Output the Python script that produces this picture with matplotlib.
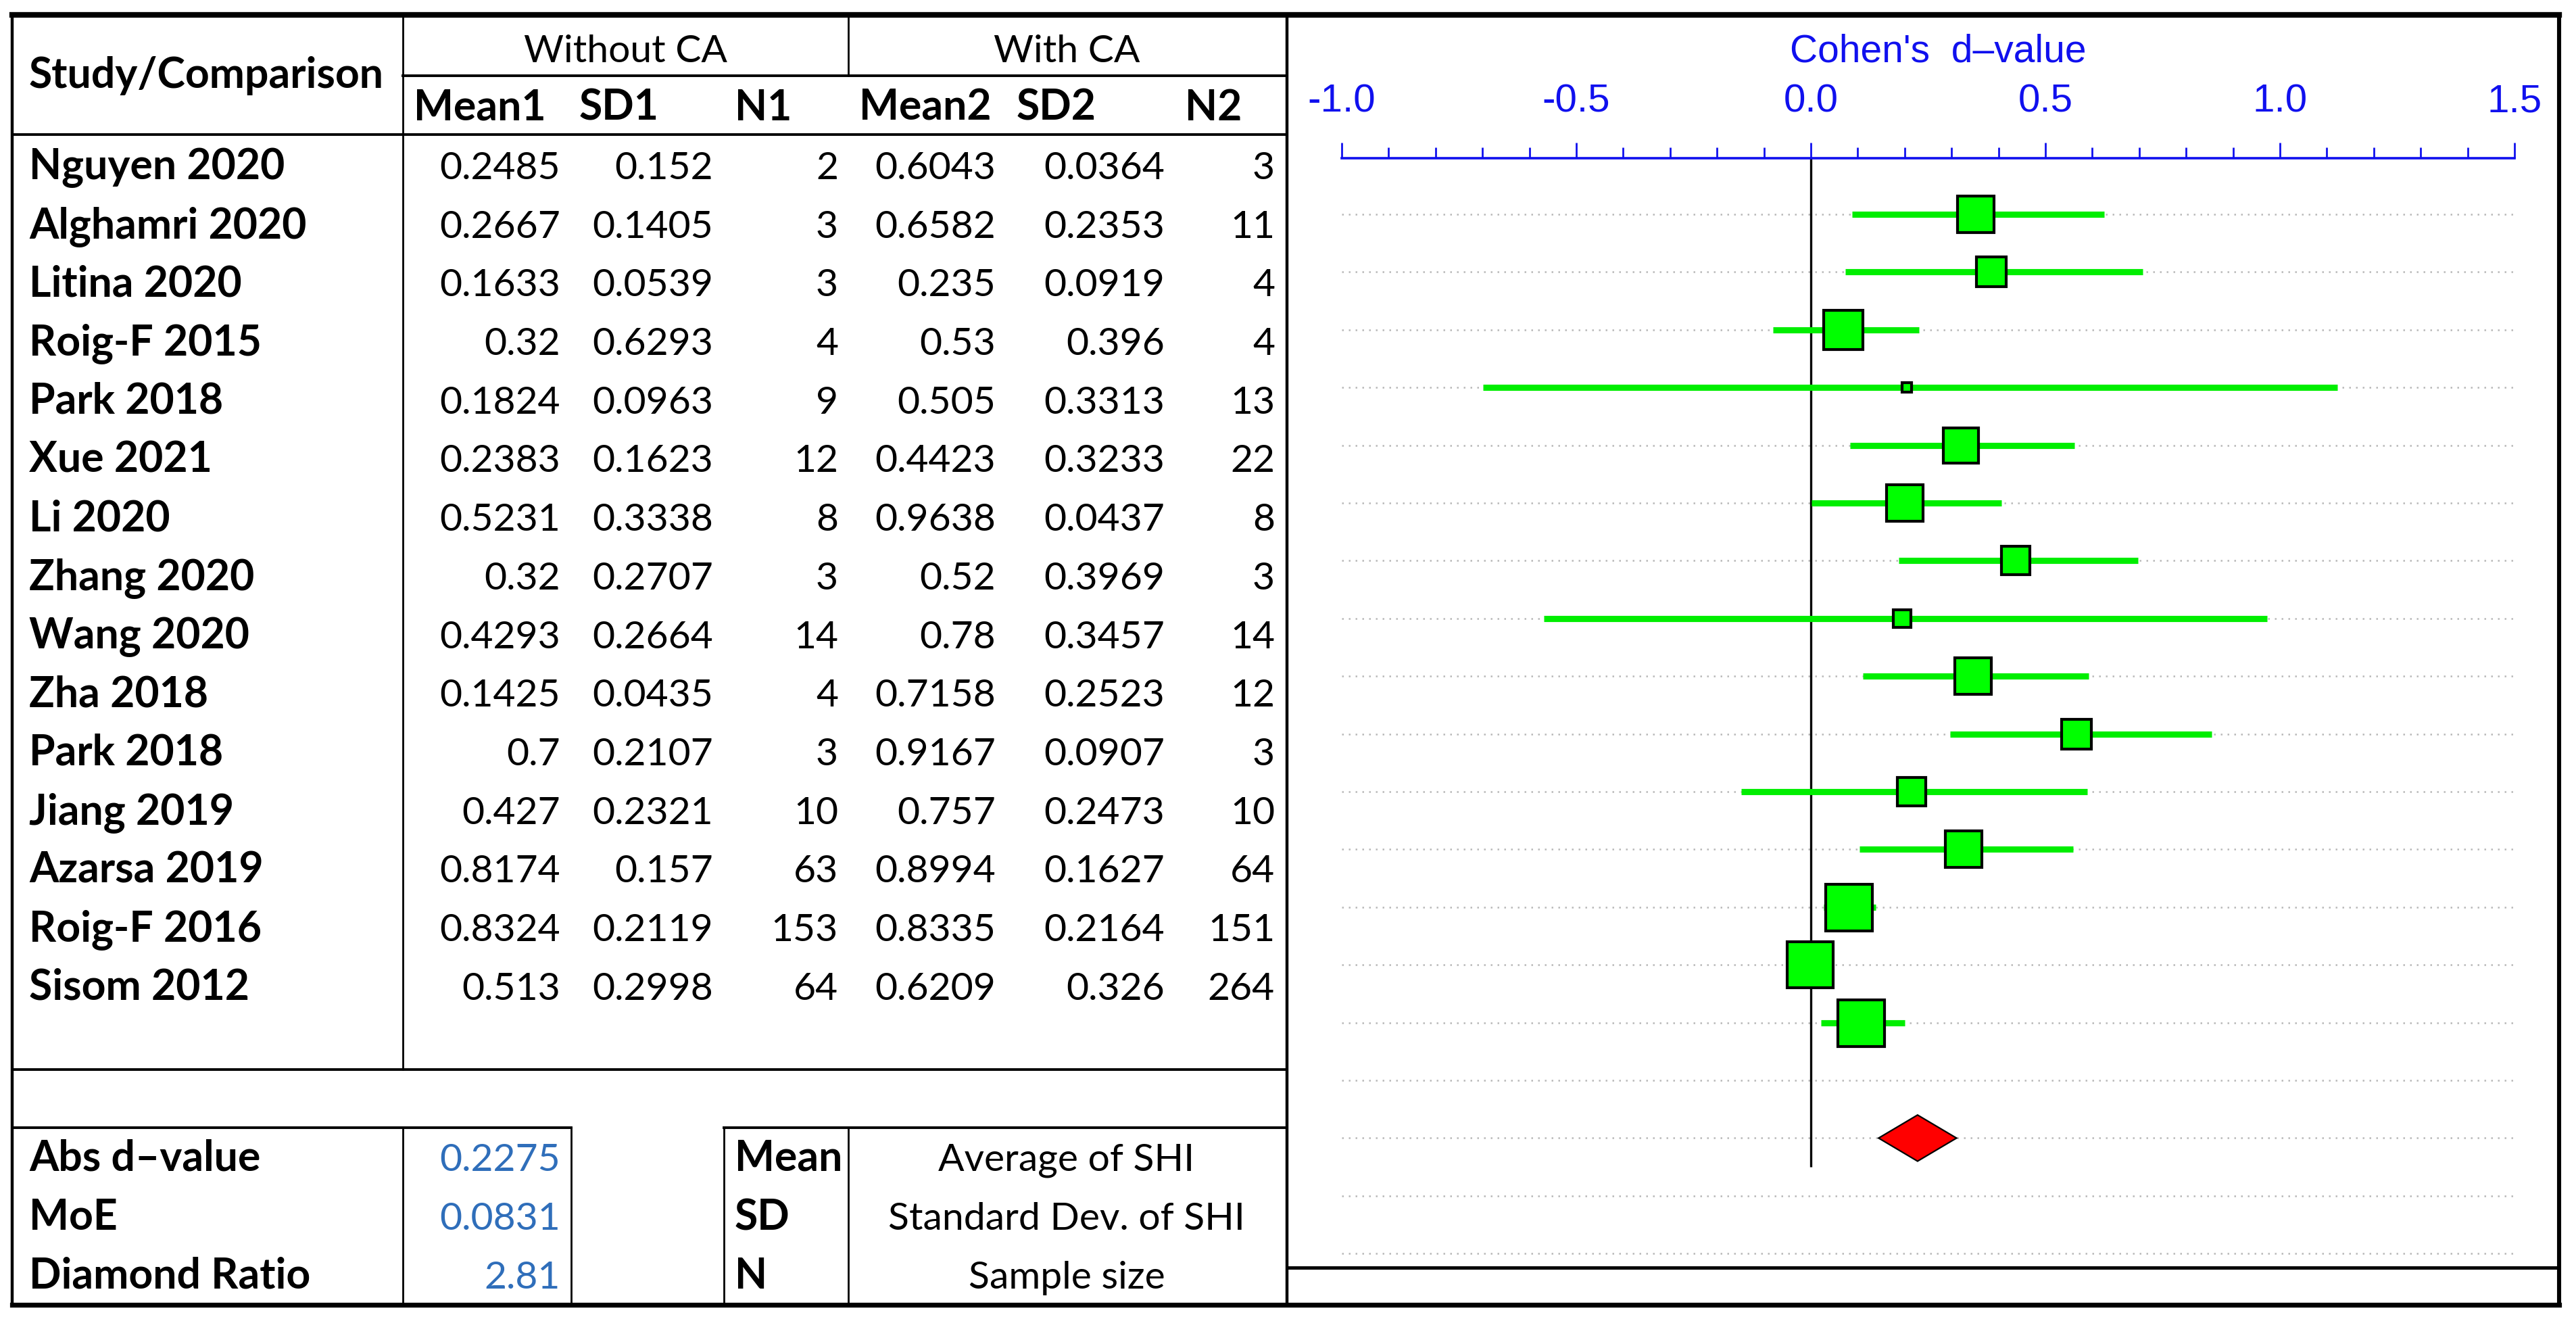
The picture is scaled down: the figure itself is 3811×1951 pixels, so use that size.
import matplotlib.pyplot as plt
from matplotlib.ticker import MultipleLocator, FormatStrFormatter

plt.rcParams["axes.unicode_minus"] = False

studies = ["Nguyen 2020", "Alghamri 2020", "Litina 2020", "Roig-F 2015", "Park 2018",
           "Xue 2021", "Li 2020", "Zhang 2020", "Wang 2020", "Zha 2018",
           "Park 2018", "Jiang 2019", "Azarsa 2019", "Roig-F 2016", "Sisom 2012"]
mean1 = ["0.2485", "0.2667", "0.1633", "0.32", "0.1824", "0.2383", "0.5231", "0.32",
         "0.4293", "0.1425", "0.7", "0.427", "0.8174", "0.8324", "0.513"]
sd1 = ["0.152", "0.1405", "0.0539", "0.6293", "0.0963", "0.1623", "0.3338", "0.2707",
       "0.2664", "0.0435", "0.2107", "0.2321", "0.157", "0.2119", "0.2998"]
n1 = [2, 3, 3, 4, 9, 12, 8, 3, 14, 4, 3, 10, 63, 153, 64]
mean2 = ["0.6043", "0.6582", "0.235", "0.53", "0.505", "0.4423", "0.9638", "0.52",
         "0.78", "0.7158", "0.9167", "0.757", "0.8994", "0.8335", "0.6209"]
sd2 = ["0.0364", "0.2353", "0.0919", "0.396", "0.3313", "0.3233", "0.0437", "0.3969",
       "0.3457", "0.2523", "0.0907", "0.2473", "0.1627", "0.2164", "0.326"]
n2 = [3, 11, 4, 4, 13, 22, 8, 3, 14, 12, 3, 10, 64, 151, 264]

# Cohen's d per study with CI, and relative weight (square area)
d_value = [0.351, 0.385, 0.069, 0.204, 0.320, 0.200, 0.436, 0.195, 0.346, 0.567,
           0.214, 0.325, 0.081, -0.002, 0.107]
ci_low = [0.088, 0.074, -0.081, -0.699, 0.084, 0.002, 0.188, -0.569, 0.111, 0.297,
          -0.149, 0.104, 0.028, -0.045, 0.021]
ci_high = [0.625, 0.708, 0.230, 1.123, 0.562, 0.406, 0.697, 0.973, 0.592, 0.854,
           0.589, 0.559, 0.139, 0.045, 0.200]
weights = [7.1, 4.7, 8.2, 0.5, 6.8, 7.4, 4.5, 1.6, 7.1, 4.7, 4.5, 7.4, 11.9, 11.6, 11.9]

abs_d = 0.2275
moe = 0.0831
diamond_ratio = 2.81

summary_labels = ["Abs d\u2013value", "MoE", "Diamond Ratio"]
summary_values = ["0.2275", "0.0831", "2.81"]
key_terms = ["Mean", "SD", "N"]
key_text = ["Average of SHI", "Standard Dev. of SHI", "Sample size"]

W, H, DPI = 3811, 1951, 200
fig = plt.figure(figsize=(W / DPI, H / DPI), dpi=DPI)

# background axes in pixel units for the table
bg = fig.add_axes([0, 0, 1, 1])
bg.set_xlim(0, W)
bg.set_ylim(H, 0)
bg.axis("off")

tfont = "Lato"
fs = 20.5
fsb = 22.5
blue_val = "#2F6EBA"
right_edge = 3786


def hline(y, x0, x1, lw):
    bg.plot([x0, x1], [y, y], color="black", lw=lw, solid_capstyle="projecting")


def vline(x, y0, y1, lw):
    bg.plot([x, x], [y0, y1], color="black", lw=lw, solid_capstyle="projecting")


# frame
hline(22, 18, right_edge, 3.0)
hline(1930, 18, right_edge, 2.6)
vline(18, 22, 1930, 1.6)
vline(right_edge, 22, 1930, 2.2)
vline(1904, 22, 1930, 1.6)
hline(1875, 1904, right_edge, 1.8)

# table grid
vline(596, 22, 1582, 1.0)
vline(1255, 22, 112, 1.0)
hline(112, 596, 1902, 1.4)
hline(199, 18, 1902, 1.4)
hline(1582, 18, 1902, 1.4)
hline(1668, 18, 845, 1.4)
hline(1668, 1071, 1902, 1.4)
for x in [596, 845, 1071, 1255]:
    vline(x, 1668, 1930, 1.0)

# headers
bg.text(43, 130, "Study/Comparison", fontsize=fsb, fontweight="bold", family=tfont)
bg.text(926, 92, "Without CA", fontsize=fs, ha="center", family=tfont)
bg.text(1578, 92, "With CA", fontsize=fs, ha="center", family=tfont)
sub_names = ["Mean1", "SD1", "N1", "Mean2", "SD2", "N2"]
sub_x = [612, 857, 1087, 1271, 1504, 1753]
for name, x in zip(sub_names, sub_x):
    bg.text(x, 178, name, fontsize=fsb, fontweight="bold", family=tfont)

# rows
col_right = [829, 1055, 1240, 1473, 1723, 1886]
for i, name in enumerate(studies):
    yb = 265 + 86.7 * i
    bg.text(43, yb, name, fontsize=fsb, fontweight="bold", family=tfont)
    vals = [mean1[i], sd1[i], str(n1[i]), mean2[i], sd2[i], str(n2[i])]
    for v, x in zip(vals, col_right):
        bg.text(x, yb, v, fontsize=fs, ha="right", family=tfont)

# summary boxes
for i in range(3):
    yb = 1732 + 87 * i
    bg.text(43, yb, summary_labels[i], fontsize=fsb, fontweight="bold", family=tfont)
    bg.text(829, yb, summary_values[i], fontsize=fs, ha="right", color=blue_val, family=tfont)
    bg.text(1087, yb, key_terms[i], fontsize=fsb, fontweight="bold", family=tfont)
    bg.text(1578, yb, key_text[i], fontsize=fs, ha="center", family=tfont)

# forest plot
ax_left, ax_right = 1985, 3720
ax_top, ax_bot = 234, 1875
row0, row_step = 317, 85.4
ax = fig.add_axes([ax_left / W, 1 - ax_bot / H, (ax_right - ax_left) / W, (ax_bot - ax_top) / H])
ax.set_xlim(-1.0, 1.5)
ax.set_ylim((ax_bot - row0) / row_step, (ax_top - row0) / row_step)
ax.patch.set_alpha(0)
for s in ["left", "right", "bottom"]:
    ax.spines[s].set_visible(False)
axis_blue = "#1010EE"
ax.spines["top"].set_color(axis_blue)
ax.spines["top"].set_linewidth(1.3)
ax.xaxis.tick_top()
ax.set_xticks([-1.0, -0.5, 0.0, 0.5, 1.0, 1.5])
ax.xaxis.set_major_formatter(FormatStrFormatter("%.1f"))
ax.xaxis.set_minor_locator(MultipleLocator(0.1))
ax.tick_params(axis="x", which="major", direction="out", length=8.4, width=1.0,
               color=axis_blue, labelcolor=axis_blue, labelsize=21, pad=12)
ax.tick_params(axis="x", which="minor", direction="out", length=5.6, width=1.0, color=axis_blue)
ax.set_yticks([])
for lab in ax.get_xticklabels():
    lab.set_family("Liberation Sans")

n_rows = 19
ax.hlines(range(n_rows), -1.0, 1.5, colors="#B8B8B8", linestyles=(0, (1, 3)), lw=0.9, zorder=1)
ax.vlines(0, (ax_top - row0) / row_step, 16.5, colors="black", lw=1.2, zorder=2)

max_w = max(weights)
for i in range(len(d_value)):
    ax.plot([ci_low[i], ci_high[i]], [i, i], color="#00EE00", lw=3.3,
            solid_capstyle="butt", zorder=3)
    side_px = 69 * (weights[i] / max_w) ** 0.5
    ax.plot(d_value[i], i, marker="s", markersize=side_px * 72 / DPI,
            markerfacecolor="#00FF00", markeredgecolor="black", markeredgewidth=1.5,
            linestyle="none", zorder=4)

dy = 0.4
ax.fill([abs_d - moe, abs_d, abs_d + moe, abs_d], [16, 16 - dy, 16, 16 + dy],
        facecolor="#FF0000", edgecolor="black", lw=0.8, zorder=4)

fig.text(2867 / W, 1 - 92 / H, "Cohen's  d\u2013value", fontsize=20.5, color=axis_blue,
         ha="center", va="baseline", family="Liberation Sans")

fig.savefig("out.png", dpi=DPI)
